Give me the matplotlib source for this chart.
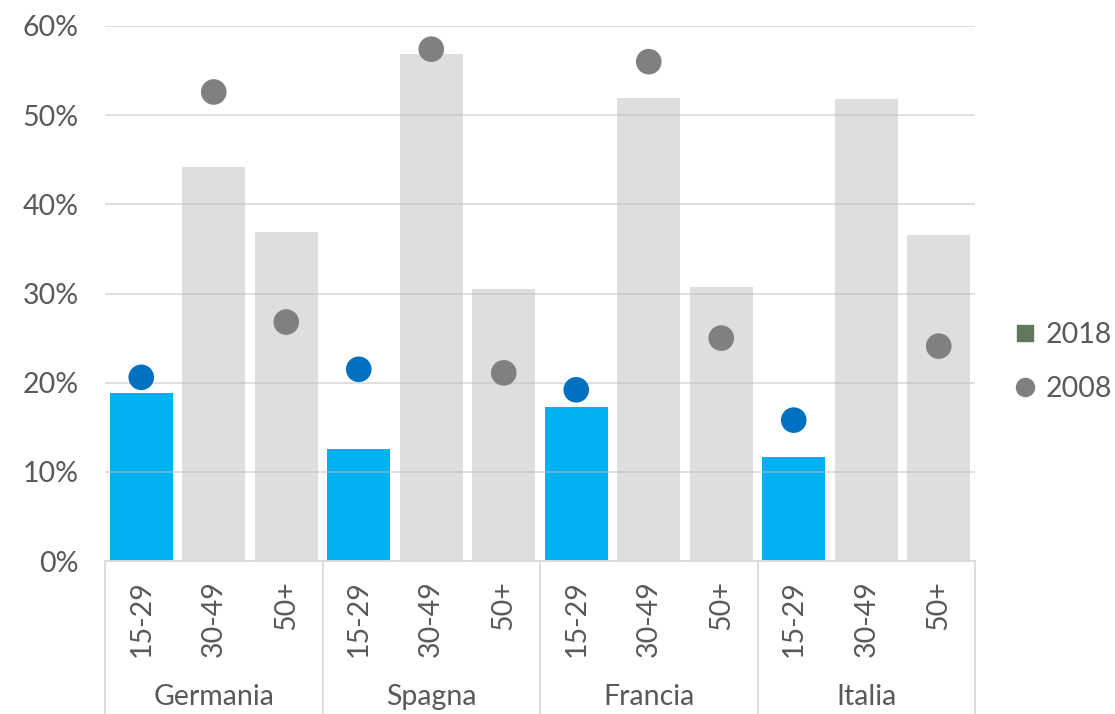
import matplotlib
matplotlib.use("Agg")
import matplotlib.pyplot as plt
from matplotlib.lines import Line2D
import matplotlib.transforms as mtransforms
import numpy as np

plt.rcParams['font.family'] = ['Lato', 'DejaVu Sans']

countries = ["Germania", "Spagna", "Francia", "Italia"]
ages = ["15-29", "30-49", "50+"]
val_2018 = [18.8, 44.2, 36.9, 12.6, 56.9, 30.5, 17.3, 51.9, 30.7, 11.7, 51.8, 36.6]
val_2008 = [20.6, 52.6, 26.8, 21.5, 57.4, 21.1, 19.2, 56.0, 25.0, 15.8, np.nan, 24.1]

txt = "#595959"
fs = 20.5
fig = plt.figure(figsize=(11.15, 7.14), dpi=100)
ax = fig.add_axes([105/1115, 153/714, 870/1115, 535/714])

n = len(val_2018)
x = np.arange(n)
bar_colors = ["#00B0F0" if i % 3 == 0 else "#DEDEDE" for i in range(n)]
dot_colors = ["#0070C0" if i % 3 == 0 else "#808080" for i in range(n)]

ax.bar(x, [v/100 for v in val_2018], width=0.87, color=bar_colors, zorder=2)
ax.scatter(x, [v/100 for v in val_2008], s=340, c=dot_colors, zorder=4, linewidths=0)

ax.set_xlim(-0.5, n - 0.5)
ax.set_ylim(0, 0.6)
ax.set_yticks(np.arange(0, 0.61, 0.1))
ax.set_yticklabels([f"{int(round(t*100))}%" for t in np.arange(0, 0.61, 0.1)])
ax.yaxis.grid(True, color="#BFBFBF", alpha=0.55, linewidth=1.3, zorder=3)
ax.set_axisbelow(False)
for s in ["top", "right", "left"]:
    ax.spines[s].set_visible(False)
ax.spines["bottom"].set_color("#D9D9D9")
ax.spines["bottom"].set_linewidth(1.3)
ax.spines["bottom"].set_zorder(5)
ax.tick_params(axis="y", length=0, labelsize=fs, labelcolor=txt, pad=19)
ax.set_xticks(x)
ax.set_xticklabels(ages * len(countries), rotation=90, va="top", ha="center")
ax.tick_params(axis="x", length=0, labelsize=fs, labelcolor=txt, pad=14)

trans = mtransforms.blended_transform_factory(ax.transData, ax.transAxes)
for g in range(len(countries) + 1):
    xs = g * 3 - 0.5
    ax.plot([xs, xs], [0, -0.3], transform=trans, color="#D9D9D9", lw=1.3, clip_on=False, zorder=5)
for g, c in enumerate(countries):
    ax.text(g * 3 + 1, -0.255, c, transform=trans, ha="center", va="center", fontsize=fs, color=txt)

handles = [
    Line2D([], [], marker="s", linestyle="none", color="#61785A", markersize=12),
    Line2D([], [], marker="o", linestyle="none", color="#808080", markersize=13),
]
leg = fig.legend(handles, ["2018", "2008"], loc="center right", bbox_to_anchor=(0.997, 0.493),
                 frameon=False, fontsize=fs, labelspacing=1.0, handletextpad=0.2, handlelength=1.0,
                 borderpad=0, borderaxespad=0)
for t in leg.get_texts():
    t.set_color(txt)

fig.savefig("out.png", dpi=100)
